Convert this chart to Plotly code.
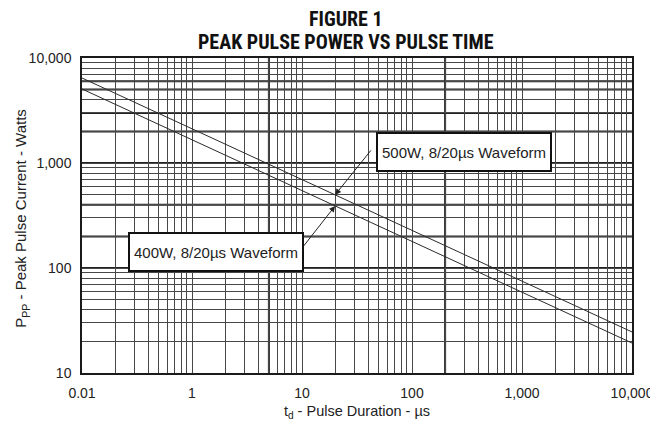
import numpy as np
import plotly.graph_objects as go

# ---- data ----
pulse_time_us = [0.1, 1, 10, 100, 1000, 10000]
power_500w = [6450, 2120, 695, 228, 75, 24.6]
power_400w = [5070, 1660, 546, 179, 58.8, 19.3]

x_tickvals = [0.1, 1, 10, 100, 1000, 10000]
x_ticktext = ["0.01", "1", "10", "100", "1,000", "10,000"]
y_tickvals = [10, 100, 1000, 10000]
y_ticktext = ["10", "100", "1,000", "10,000"]

# grid lines that print heavier on the reference's graph paper
heavy_x_grid = [5, 200]
heavy_y_grid = [6000, 5000, 3000, 2000, 1000, 400, 200, 100]

label_500 = "500W, 8/20µs Waveform"
label_400 = "400W, 8/20µs Waveform"
arrow_time = 20
arrow_power_500 = 497
arrow_power_400 = 390

FONT = "Liberation Sans, Arial, Helvetica, sans-serif"
TITLE_FONT = "Liberation Sans Narrow, Arial Narrow, Roboto Condensed, Roboto, sans-serif"
GRID = "#474747"

fig = go.Figure()
fig.add_trace(go.Scatter(x=pulse_time_us, y=power_500w, mode="lines",
                         line=dict(color="#2a2a2a", width=1), showlegend=False))
fig.add_trace(go.Scatter(x=pulse_time_us, y=power_400w, mode="lines",
                         line=dict(color="#2a2a2a", width=1), showlegend=False))

axis_common = dict(type="log", showline=True, linecolor="#1a1a1a", linewidth=1.5, mirror=True,
                   showgrid=True, gridcolor=GRID, gridwidth=1, ticks="", zeroline=False,
                   automargin=False,
                   tickfont=dict(family=FONT, size=14, color="#222222"),
                   minor=dict(dtick="D1", showgrid=True, gridcolor=GRID, gridwidth=1, ticks=""))

fig.update_xaxes(**axis_common, range=[np.log10(0.1), np.log10(10000)],
                 tickmode="array", tickvals=x_tickvals, ticktext=x_ticktext,
                 ticklabelstandoff=6,
                 title=dict(text="t<sub>d</sub> - Pulse Duration - µs",
                            font=dict(family=FONT, size=14.5, color="#222222"), standoff=6))
fig.update_yaxes(**axis_common, range=[np.log10(10), np.log10(10000)],
                 tickmode="array", tickvals=y_tickvals, ticktext=y_ticktext,
                 ticklabelstandoff=6)

# heavier graph-paper lines (shape coordinates on log axes take data values)
for xv in heavy_x_grid:
    fig.add_shape(type="line", xref="x", yref="paper", x0=xv, x1=xv,
                  y0=0, y1=1, line=dict(color="#222222", width=2), layer="below")
for yv in heavy_y_grid:
    fig.add_shape(type="line", xref="paper", yref="y", x0=0, x1=1, y0=yv,
                  y1=yv, line=dict(color="#222222", width=2), layer="below")

# y-axis title placed as a rotated annotation
fig.add_annotation(text="P<sub>PP</sub> - Peak Pulse Current - Watts", textangle=-90,
                   showarrow=False, xref="paper", yref="paper", x=-0.109, y=0.49,
                   xanchor="center", yanchor="middle",
                   font=dict(family=FONT, size=15, color="#222222"))

box = dict(showarrow=False, bordercolor="#111111", borderwidth=2, bgcolor="white",
           borderpad=3, width=166, height=30, font=dict(family=FONT, size=15, color="#222222"),
           xref="paper", yref="paper", xanchor="center", yanchor="middle")
fig.add_annotation(text=label_500, x=0.695, y=0.703, **box)
fig.add_annotation(text=label_400, x=0.243, y=0.383, **box)

arrow = dict(text="", showarrow=True, arrowhead=2, arrowsize=1.2, arrowwidth=1,
             arrowcolor="#222222", axref="pixel", ayref="pixel")
fig.add_annotation(x=np.log10(arrow_time), y=np.log10(arrow_power_500), ax=37, ay=-46, **arrow)
fig.add_annotation(x=np.log10(arrow_time), y=np.log10(arrow_power_400), ax=-33, ay=42, **arrow)

title_common = dict(showarrow=False, xref="paper", yref="paper", x=0.48,
                    xanchor="center", yanchor="middle",
                    font=dict(family=TITLE_FONT, size=20, color="#111111"))
fig.add_annotation(text="<b>FIGURE 1</b>", y=1.123, **title_common)
fig.add_annotation(text="<b>PEAK PULSE POWER VS PULSE TIME</b>", y=1.051, **title_common)

# the page body adds an 8px margin, so the figure is sized to fit the 658x431 window
fig.update_layout(
    width=650, height=423,
    margin=dict(l=74, r=26, t=50, b=58),
    paper_bgcolor="white", plot_bgcolor="white",
)

fig.write_html("out.html")
